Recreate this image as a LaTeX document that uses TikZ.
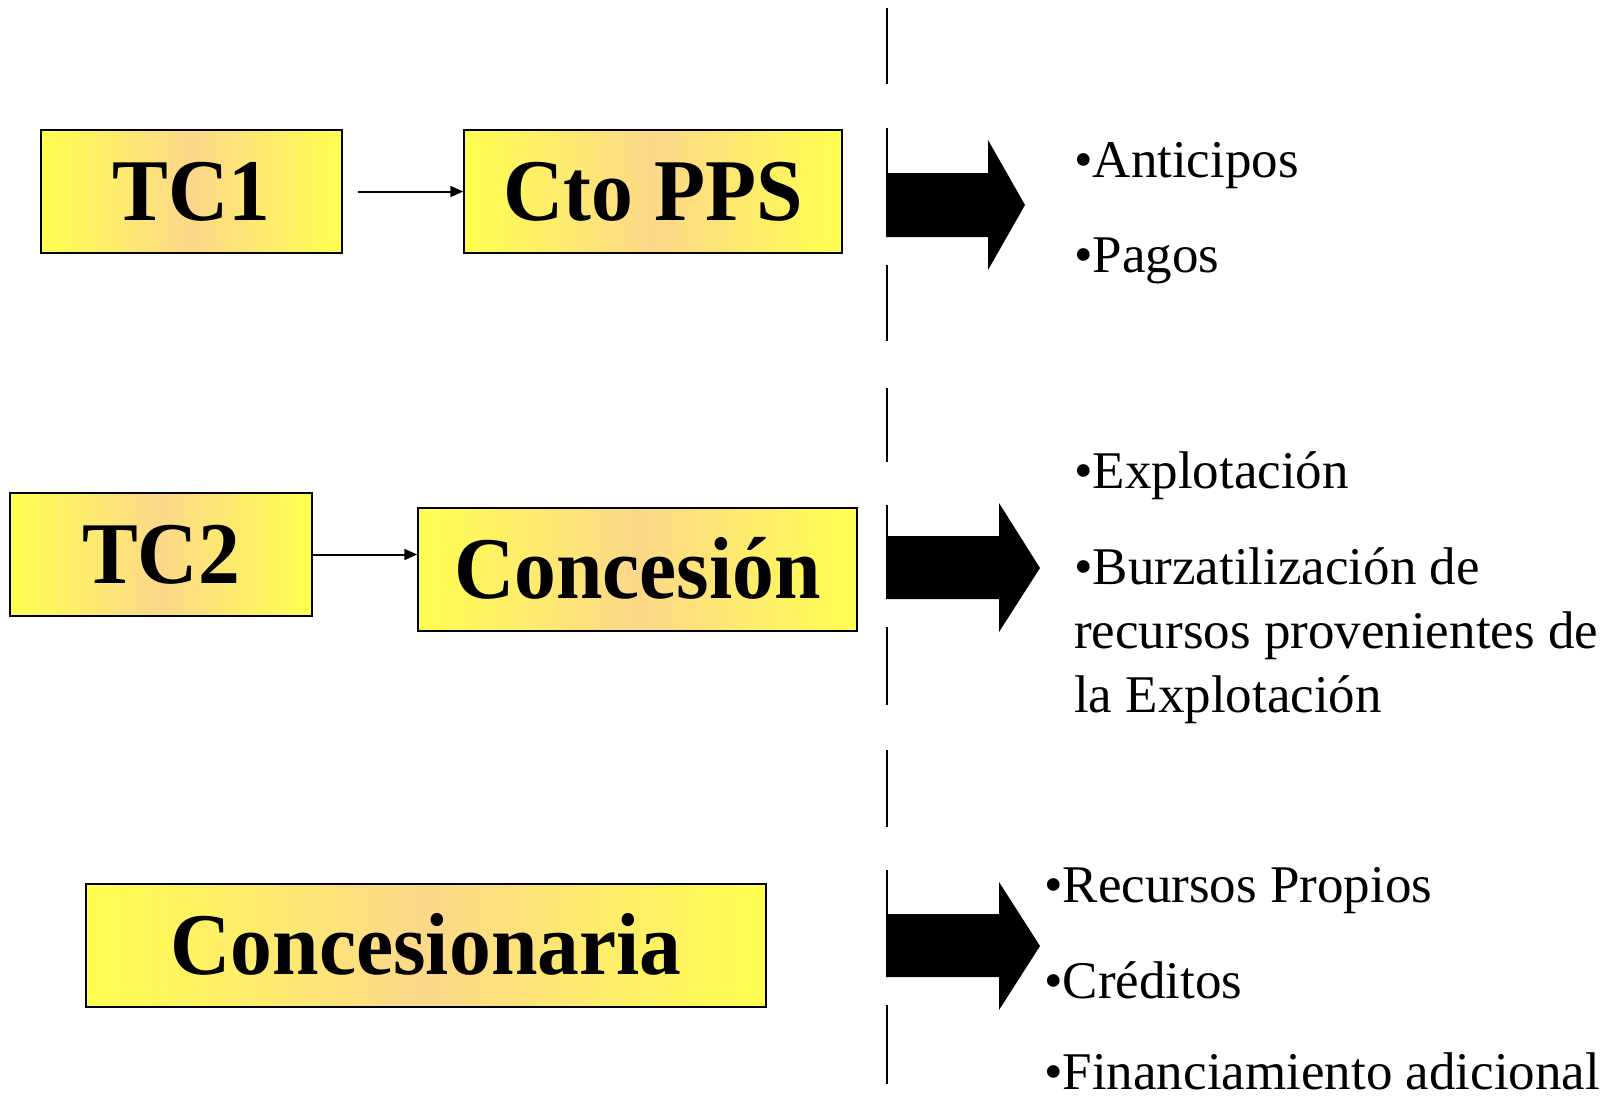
\documentclass[tikz,border=0pt]{standalone}
\usepackage{fontspec}
\usepackage{graphicx}
\setmainfont{Liberation Serif}
\usetikzlibrary{arrows.meta}
\definecolor{goldEdge}{RGB}{255,255,80}
\definecolor{goldMid}{RGB}{252,216,138}
\newcommand{\narrow}[1]{\scalebox{0.95}[1]{#1}}
\begin{document}
\begin{tikzpicture}[x=1pt,y=-1pt,
  box/.style={draw=black, line width=1.5pt,
    left color=goldEdge, right color=goldEdge, middle color=goldMid,
    inner sep=0pt, minimum height=123pt,
    font=\fontsize{88}{100}\selectfont\bfseries,
    text height=57.6pt, text depth=0pt},
  link/.style={line width=2pt, -{Triangle[length=13pt,width=11pt]}},
  item/.style={anchor=base west, inner sep=0pt,
    font=\fontsize{53}{64}\selectfont},
  divider/.style={line width=2pt},
  blockarrow/.style={fill=black}
]
\useasboundingbox (0,0) rectangle (1611,1096);

% vertical dashed separator
\foreach \a/\b in {8/84, 128/237, 265/341, 388/462, 505/599, 627/705, 750/827, 870/977, 1005/1084}
  \draw[divider] (887,\a) -- (887,\b);

% boxes
\node[box, minimum width=301pt] (tc1) at (191.5,191.5) {\narrow{TC1}};
\node[box, minimum width=378pt] (cto) at (653,191.5) {\narrow{Cto PPS}};
\node[box, minimum width=302pt] (tc2) at (161,554.5) {\narrow{TC2}};
\node[box, minimum width=439pt] (con) at (637.5,569.5) {\narrow{Concesión}};
\node[box, minimum width=680pt] (cnr) at (426,945.5) {\narrow{Concesionaria}};

% connectors between boxes
\draw[link, shorten <=15pt] (tc1) -- (cto);
\draw[link] (tc2.east) -- (tc2.east -| con.west);

% block arrows
\fill[blockarrow] (886,173) -- (988,173) -- (988,140) -- (1025,205) -- (988,270) -- (988,237) -- (886,237) -- cycle;
\fill[blockarrow] (886,536) -- (999,536) -- (999,503) -- (1040,568) -- (999,632) -- (999,599) -- (886,599) -- cycle;
\fill[blockarrow] (886,914) -- (999,914) -- (999,882) -- (1040,946) -- (999,1010) -- (999,977) -- (886,977) -- cycle;

% lists
\node[item] (a1) at (1074,177) {•Anticipos};
\node[item] (a2) at (1074,272) {•Pagos};
\node[item] (b1) at (1074,488) {•Explotación};
\node[item] (b2) at (1074,584) {\begin{tabular}[t]{@{}l@{}}•Burzatilización de\\recursos provenientes de\\la Explotación\end{tabular}};
\node[item] (c1) at (1044,902) {•Recursos Propios};
\node[item] (c2) at (1044,998) {•Créditos};
\node[item] (c3) at (1044,1089) {•Financiamiento adicional};
\end{tikzpicture}
\end{document}
